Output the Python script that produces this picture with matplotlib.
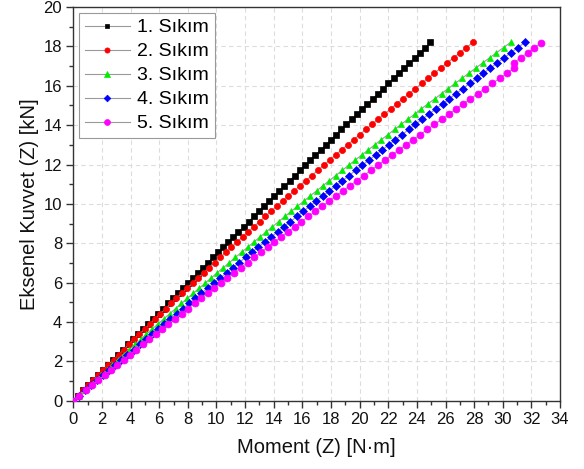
import matplotlib
matplotlib.use("Agg")
import matplotlib.pyplot as plt
from matplotlib.ticker import MultipleLocator

plt.rcParams["font.family"] = ["Liberation Sans", "DejaVu Sans"]

# Axial force levels [kN] shared by the tightening runs
force = [0.00, 0.26, 0.52, 0.78, 1.04, 1.30, 1.56, 1.82, 2.08, 2.34,
         2.60, 2.86, 3.12, 3.38, 3.64, 3.90, 4.16, 4.42, 4.68, 4.94,
         5.20, 5.46, 5.72, 5.98, 6.24, 6.50, 6.76, 7.02, 7.28, 7.54,
         7.80, 8.06, 8.32, 8.58, 8.84, 9.10, 9.36, 9.62, 9.88, 10.14,
         10.40, 10.66, 10.92, 11.18, 11.44, 11.70, 11.96, 12.22, 12.48, 12.74,
         13.00, 13.26, 13.52, 13.78, 14.04, 14.30, 14.56, 14.82, 15.08, 15.34,
         15.60, 15.86, 16.12, 16.38, 16.64, 16.90, 17.16, 17.42, 17.68, 17.94,
         18.20]

# Run 5 has a small step near the end
force5 = force[:66] + [17.18, 17.43, 17.68, 17.93, 18.18]

# Torque values [N·m] for each run
moment1 = [0.00, 0.34, 0.69, 1.03, 1.38, 1.72, 2.07, 2.41, 2.76, 3.10,
           3.45, 3.80, 4.15, 4.49, 4.84, 5.19, 5.54, 5.89, 6.24, 6.59,
           6.94, 7.29, 7.64, 7.99, 8.35, 8.70, 9.05, 9.40, 9.76, 10.11,
           10.47, 10.82, 11.18, 11.53, 11.89, 12.24, 12.60, 12.96, 13.31, 13.67,
           14.03, 14.39, 14.75, 15.11, 15.47, 15.83, 16.19, 16.55, 16.91, 17.27,
           17.63, 17.99, 18.36, 18.72, 19.08, 19.45, 19.81, 20.18, 20.54, 20.91,
           21.27, 21.64, 22.00, 22.37, 22.74, 23.11, 23.47, 23.84, 24.21, 24.58,
           24.95]
moment2 = [0.00, 0.35, 0.69, 1.04, 1.39, 1.74, 2.10, 2.45, 2.81, 3.17,
           3.52, 3.89, 4.25, 4.61, 4.98, 5.34, 5.71, 6.08, 6.46, 6.83,
           7.20, 7.58, 7.96, 8.34, 8.72, 9.10, 9.48, 9.87, 10.26, 10.65,
           11.04, 11.43, 11.82, 12.22, 12.61, 13.01, 13.41, 13.81, 14.21, 14.62,
           15.02, 15.43, 15.84, 16.25, 16.66, 17.07, 17.49, 17.91, 18.32, 18.74,
           19.16, 19.59, 20.01, 20.44, 20.86, 21.29, 21.72, 22.16, 22.59, 23.02,
           23.46, 23.90, 24.34, 24.78, 25.22, 25.67, 26.11, 26.56, 27.01, 27.46,
           27.91]
moment3 = [0.00, 0.38, 0.77, 1.16, 1.55, 1.94, 2.33, 2.72, 3.11, 3.51,
           3.91, 4.31, 4.71, 5.11, 5.51, 5.92, 6.33, 6.73, 7.14, 7.55,
           7.97, 8.38, 8.80, 9.22, 9.63, 10.05, 10.48, 10.90, 11.32, 11.75,
           12.18, 12.61, 13.04, 13.47, 13.91, 14.34, 14.78, 15.22, 15.66, 16.10,
           16.54, 16.99, 17.43, 17.88, 18.33, 18.78, 19.23, 19.68, 20.14, 20.60,
           21.05, 21.51, 21.98, 22.44, 22.90, 23.37, 23.84, 24.30, 24.77, 25.25,
           25.72, 26.19, 26.67, 27.15, 27.63, 28.11, 28.59, 29.08, 29.56, 30.05,
           30.54]
moment4 = [0.00, 0.42, 0.83, 1.25, 1.67, 2.09, 2.51, 2.94, 3.36, 3.78,
           4.21, 4.64, 5.06, 5.49, 5.92, 6.35, 6.78, 7.21, 7.65, 8.08,
           8.52, 8.95, 9.39, 9.83, 10.27, 10.71, 11.15, 11.59, 12.03, 12.48,
           12.92, 13.37, 13.82, 14.27, 14.71, 15.16, 15.62, 16.07, 16.52, 16.97,
           17.43, 17.89, 18.34, 18.80, 19.26, 19.72, 20.18, 20.64, 21.11, 21.57,
           22.03, 22.50, 22.97, 23.43, 23.90, 24.37, 24.84, 25.32, 25.79, 26.26,
           26.74, 27.21, 27.69, 28.17, 28.65, 29.13, 29.61, 30.09, 30.57, 31.05,
           31.54]
moment5 = [0.00, 0.43, 0.87, 1.31, 1.75, 2.19, 2.63, 3.07, 3.51, 3.96,
           4.40, 4.85, 5.30, 5.75, 6.20, 6.65, 7.10, 7.56, 8.01, 8.47,
           8.93, 9.39, 9.85, 10.31, 10.77, 11.24, 11.70, 12.17, 12.64, 13.10,
           13.58, 14.05, 14.52, 14.99, 15.47, 15.94, 16.42, 16.90, 17.38, 17.86,
           18.34, 18.83, 19.31, 19.80, 20.29, 20.77, 21.26, 21.75, 22.25, 22.74,
           23.24, 23.73, 24.23, 24.73, 25.23, 25.73, 26.23, 26.73, 27.24, 27.74,
           28.25, 28.76, 29.27, 29.78, 30.29, 30.80, 30.80, 31.27, 31.74, 32.21,
           32.68]

labels = ["1. Sıkım", "2. Sıkım", "3. Sıkım", "4. Sıkım", "5. Sıkım"]

series = [
    (moment1, force, "#000000", "s", 4.2),
    (moment2, force, "#ff0000", "o", 4.4),
    (moment3, force, "#00ee00", "^", 4.8),
    (moment4, force, "#0000ff", "D", 4.0),
    (moment5, force5, "#ff00ff", "o", 5.0),
]

fig = plt.figure(figsize=(5.84, 4.69), dpi=100)
ax = fig.add_axes([0.1255, 0.1456, 0.8335, 0.8394])

for (m, f, c, mk, ms), lab in zip(series, labels):
    ax.plot(m, f, color="#9a9a9a", lw=0.8, marker=mk, ms=ms,
            markerfacecolor=c, markeredgecolor=c, markeredgewidth=0.5,
            label=lab, zorder=3)

ax.set_xlim(0, 34)
ax.set_ylim(0, 20)
ax.xaxis.set_major_locator(MultipleLocator(2))
ax.xaxis.set_minor_locator(MultipleLocator(1))
ax.yaxis.set_major_locator(MultipleLocator(2))
ax.yaxis.set_minor_locator(MultipleLocator(1))

ax.grid(True, which="major", color="#dcdcdc", linestyle=(0, (4, 3)), lw=0.8, zorder=0)
ax.set_axisbelow(True)

for sp in ax.spines.values():
    sp.set_color("#333333")
    sp.set_linewidth(1.0)

ax.tick_params(which="major", direction="out", length=5, width=1.0,
               color="#333333", labelsize=12, labelcolor="#111111",
               top=False, right=False, pad=3)
ax.tick_params(which="minor", direction="out", length=3, width=1.0,
               color="#333333", top=False, right=False)

ax.set_xlabel("Moment (Z) [N·m]", fontsize=14.5, color="#111111", labelpad=8)
ax.set_ylabel("Eksenel Kuvvet (Z) [kN]", fontsize=14.5, color="#111111", labelpad=3)

leg = ax.legend(loc="upper left", bbox_to_anchor=(0.012, 0.985), fontsize=14,
                frameon=True, fancybox=False, shadow=False, framealpha=1,
                edgecolor="#999999", handlelength=2.3, handletextpad=0.4,
                labelspacing=0.33, borderpad=0.3, borderaxespad=0.0,
                markerscale=0.85)
leg.get_frame().set_linewidth(0.8)

fig.savefig("out.png", dpi=100)
